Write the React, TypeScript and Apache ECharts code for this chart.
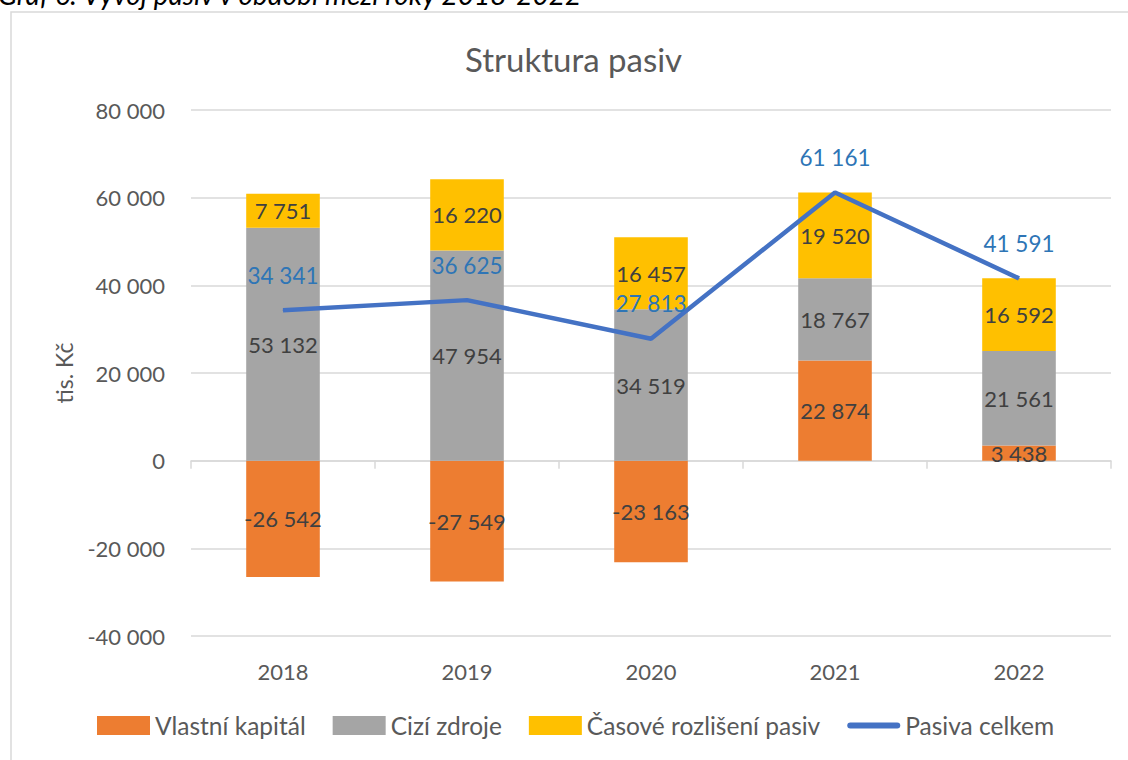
import React, { useEffect, useRef } from "react";
import * as echarts from "echarts";

const categories = ["2018", "2019", "2020", "2021", "2022"];
const vlastniKapital = [-26542, -27549, -23163, 22874, 3438];
const ciziZdroje = [53132, 47954, 34519, 18767, 21561];
const casoveRozliseni = [7751, 16220, 16457, 19520, 16592];
const pasivaCelkem = [34341, 36625, 27813, 61161, 41591];

const FONT = "Lato";
const fmt = (v: number) => {
  const s = Math.abs(Math.round(v)).toString().replace(/\B(?=(\d{3})+(?!\d))/g, " ");
  return (v < 0 ? "-" : "") + s;
};

export default function App() {
  const ref = useRef<HTMLDivElement>(null);
  useEffect(() => {
    if (!ref.current) return;
    const chart = echarts.init(ref.current, null, { renderer: "svg" });
    const barLabel = {
      show: true,
      position: "inside" as const,
      color: "#404040",
      fontSize: 22,
      fontFamily: FONT,
      formatter: (p: any) => fmt(p.value),
    };
    chart.setOption({
      animation: false,
      backgroundColor: "#ffffff",
      textStyle: { fontFamily: FONT },
      title: {
        text: "Struktura pasiv",
        left: 460,
        top: 37,
        textStyle: { fontSize: 33, fontWeight: "normal", color: "#595959", fontFamily: FONT },
      },
      graphic: [
        {
          type: "rect",
          shape: { x: 11, y: 12, width: 1200, height: 800 },
          style: { fill: "none", stroke: "#d9d9d9", lineWidth: 1.5 },
          silent: true,
          z: -10,
        },
        {
          type: "text",
          x: -2,
          y: -6,
          style: {
            text: "Graf 6: Vývoj pasiv v období mezi roky 2018-2022",
            font: "italic 28px Lato",
            fill: "#000000",
            verticalAlign: "middle",
          },
        },
      ],
      legend: {
        left: 92,
        top: 708,
        itemWidth: 53,
        itemHeight: 19,
        itemGap: 27,
        textStyle: { fontSize: 24.5, color: "#595959", fontFamily: FONT },
        data: [
          { name: "Vlastní kapitál", icon: "rect" },
          { name: "Cizí zdroje", icon: "rect" },
          { name: "Časové rozlišení pasiv", icon: "rect" },
          {
            name: "Pasiva celkem",
            icon: "path://M3,0 L49,0 A3,3 0 0 1 49,6 L3,6 A3,3 0 0 1 3,0 Z",
            itemStyle: { color: "#4472C4" },
          },
        ],
      },
      grid: { left: 191, right: 17, top: 110, bottom: 124 },
      xAxis: [
        {
          type: "category",
          data: categories,
          position: "bottom",
          axisLine: { show: false, onZero: false },
          axisTick: { show: false },
          axisLabel: { color: "#595959", fontSize: 22, margin: 24, fontFamily: FONT },
        },
        {
          type: "category",
          data: categories,
          position: "bottom",
          axisLine: { show: true, onZero: true, lineStyle: { color: "#d9d9d9", width: 1.5 } },
          axisTick: { show: true, length: 8, lineStyle: { color: "#d9d9d9", width: 1.5 } },
          axisLabel: { show: false },
        },
      ],
      yAxis: {
        type: "value",
        min: -40000,
        max: 80000,
        interval: 20000,
        name: "tis. Kč",
        nameLocation: "middle",
        nameGap: 116,
        nameTextStyle: { fontSize: 23, color: "#595959", fontFamily: FONT },
        axisLine: { show: false },
        axisTick: { show: false },
        axisLabel: { color: "#595959", fontSize: 22, margin: 26, fontFamily: FONT, formatter: (v: number) => fmt(v) },
        splitLine: { lineStyle: { color: "#d9d9d9", width: 1.5 } },
      },
      series: [
        {
          name: "Vlastní kapitál",
          type: "bar",
          stack: "a",
          data: vlastniKapital,
          barCategoryGap: "60%",
          itemStyle: { color: "#ED7D31" },
          label: barLabel,
        },
        {
          name: "Cizí zdroje",
          type: "bar",
          stack: "a",
          data: ciziZdroje,
          barCategoryGap: "60%",
          itemStyle: { color: "#A5A5A5" },
          label: barLabel,
        },
        {
          name: "Časové rozlišení pasiv",
          type: "bar",
          stack: "a",
          data: casoveRozliseni,
          barCategoryGap: "60%",
          itemStyle: { color: "#FFC000" },
          label: barLabel,
        },
        {
          name: "Pasiva celkem",
          type: "line",
          data: pasivaCelkem,
          symbol: "circle",
          symbolSize: 1,
          showSymbol: true,
          z: 5,
          lineStyle: { color: "#4472C4", width: 4.5 },
          itemStyle: { color: "#4472C4" },
          label: {
            show: true,
            position: "top",
            distance: 23,
            color: "#2E75B6",
            fontSize: 22.5,
            fontFamily: FONT,
            formatter: (p: any) => fmt(p.value),
          },
        },
      ],
    });
    return () => chart.dispose();
  }, []);
  return <div ref={ref} style={{ position: "fixed", left: 0, top: 0, width: 1128, height: 760 }} />;
}
